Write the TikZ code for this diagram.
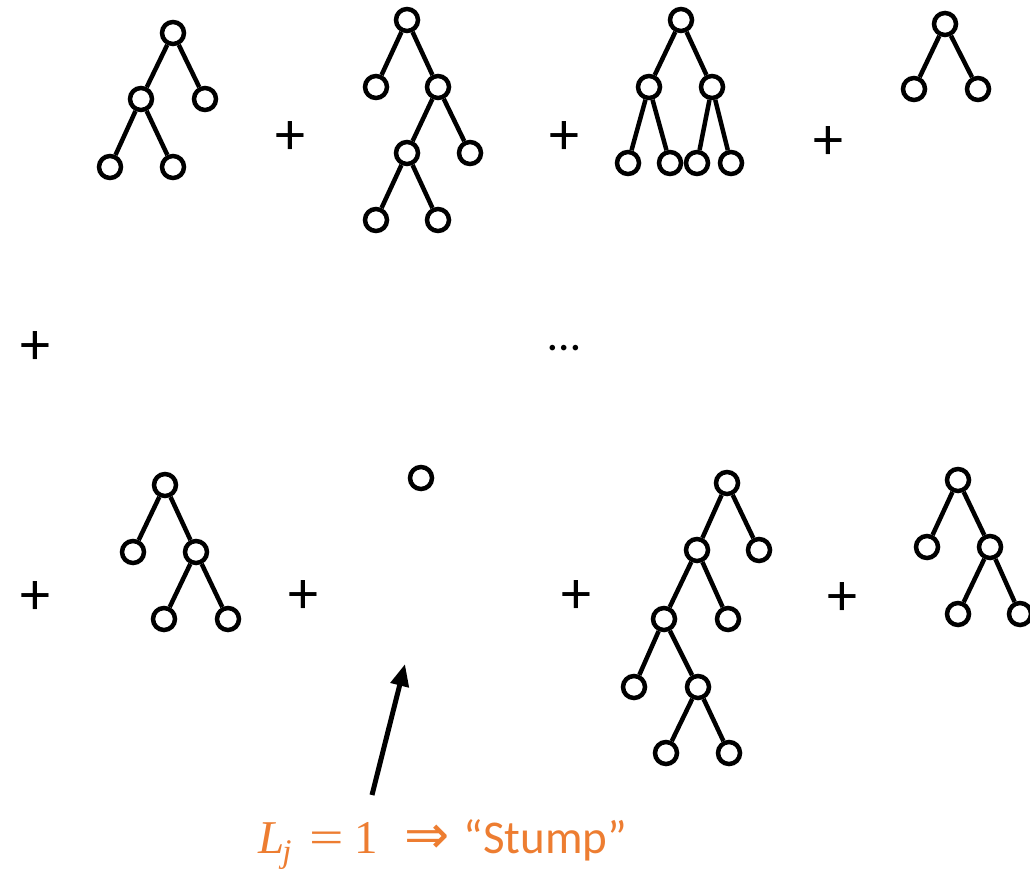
\documentclass[tikz,border=0pt]{standalone}
\usepackage{fontspec}
\setmainfont{Carlito}
\newfontfamily\symbfont{DejaVu Sans}
\newfontfamily\mathlike{Liberation Serif}
\usepackage{xcolor}
\usetikzlibrary{arrows.meta}
\definecolor{stumporange}{RGB}{237,125,49}

\begin{document}
\begin{tikzpicture}[
    x=1pt, y=-1pt,
    vert/.style={draw, circle, line width=4.5pt, minimum size=22pt, inner sep=0pt},
    edge/.style={line width=4.5pt},
    op/.style={font=\fontsize{60}{66}\selectfont, inner sep=0pt},
    line/.style={-{Triangle[length=22pt,width=18pt]}, line width=5pt}
]
\clip (0,0) rectangle (1030,869);
\fill[white] (0,0) rectangle (1030,869);

% first row
\node[vert] (a0) at (173,33)  {};
\node[vert] (a1) at (141,99)  {};
\node[vert] (a2) at (205,99)  {};
\node[vert] (a3) at (110,167) {};
\node[vert] (a4) at (173,167) {};
\foreach \p/\c in {a0/a1, a0/a2, a1/a3, a1/a4} \draw[edge] (\p) -- (\c);
\node[op] (plus1) at (290,138) {+};

\node[vert] (b0) at (407,20)  {};
\node[vert] (b1) at (376,87)  {};
\node[vert] (b2) at (438,87)  {};
\node[vert] (b3) at (407,153) {};
\node[vert] (b4) at (470,153) {};
\node[vert] (b5) at (376,220) {};
\node[vert] (b6) at (438,220) {};
\foreach \p/\c in {b0/b1, b0/b2, b2/b3, b2/b4, b3/b5, b3/b6} \draw[edge] (\p) -- (\c);
\node[op] (plus2) at (564,138) {+};

\node[vert] (c0) at (681,20)  {};
\node[vert] (c1) at (649,87)  {};
\node[vert] (c2) at (712,87)  {};
\node[vert] (c3) at (628,163) {};
\node[vert] (c4) at (670,163) {};
\node[vert] (c5) at (697,163) {};
\node[vert] (c6) at (731,163) {};
\foreach \p/\c in {c0/c1, c0/c2, c1/c3, c1/c4, c2/c5, c2/c6} \draw[edge] (\p) -- (\c);
\node[op] (plus3) at (828,143) {+};

\node[vert] (d0) at (945,24) {};
\node[vert] (d1) at (914,89) {};
\node[vert] (d2) at (978,89) {};
\foreach \p/\c in {d0/d1, d0/d2} \draw[edge] (\p) -- (\c);

% second row
\node[op] (plus4) at (35,348) {+};
\node[font=\fontsize{46}{52}\selectfont, inner sep=0pt] (dots) at (564,348) {\dots};

% third row
\node[op] (plus5) at (35,598) {+};
\node[vert] (e0) at (165,485) {};
\node[vert] (e1) at (133,552) {};
\node[vert] (e2) at (196,552) {};
\node[vert] (e3) at (164,619) {};
\node[vert] (e4) at (228,619) {};
\foreach \p/\c in {e0/e1, e0/e2, e2/e3, e2/e4} \draw[edge] (\p) -- (\c);
\node[op] (plus6) at (303,597) {+};

\node[vert] (stump) at (421,478) {};
\node[op] (plus7) at (576,597) {+};

\node[vert] (f0) at (727,483) {};
\node[vert] (f1) at (697,550) {};
\node[vert] (f2) at (759,550) {};
\node[vert] (f3) at (664,619) {};
\node[vert] (f4) at (728,619) {};
\node[vert] (f5) at (634,687) {};
\node[vert] (f6) at (698,687) {};
\node[vert] (f7) at (666,753) {};
\node[vert] (f8) at (729,753) {};
\foreach \p/\c in {f0/f1, f0/f2, f1/f3, f1/f4, f3/f5, f3/f6, f6/f7, f6/f8} \draw[edge] (\p) -- (\c);
\node[op] (plus8) at (842,599) {+};

\node[vert] (g0) at (958,480)  {};
\node[vert] (g1) at (927,547)  {};
\node[vert] (g2) at (990,547)  {};
\node[vert] (g3) at (958,614)  {};
\node[vert] (g4) at (1020,614) {};
\foreach \p/\c in {g0/g1, g0/g2, g2/g3, g2/g4} \draw[edge] (\p) -- (\c);

% stump label
\node[font=\fontsize{47}{54}\selectfont, text=stumporange, inner sep=0pt,
      anchor=base west] (label) at (258,853)
    {{\mathlike\itshape L\kern-2pt\raisebox{-9pt}{\fontsize{33}{38}\selectfont j}}%
     \hspace{18pt}{\mathlike\scalebox{1.3}[1]{=}}\hspace{11pt}{\mathlike 1}%
     \hspace{26pt}{\symbfont\fontsize{54}{60}\selectfont ⇒}\hspace{14pt}“Stump”};
\coordinate (tail) at (372,795);
\coordinate (tip)  at (405,664);
\draw[line] (tail) -- (tip);
\end{tikzpicture}
\end{document}
